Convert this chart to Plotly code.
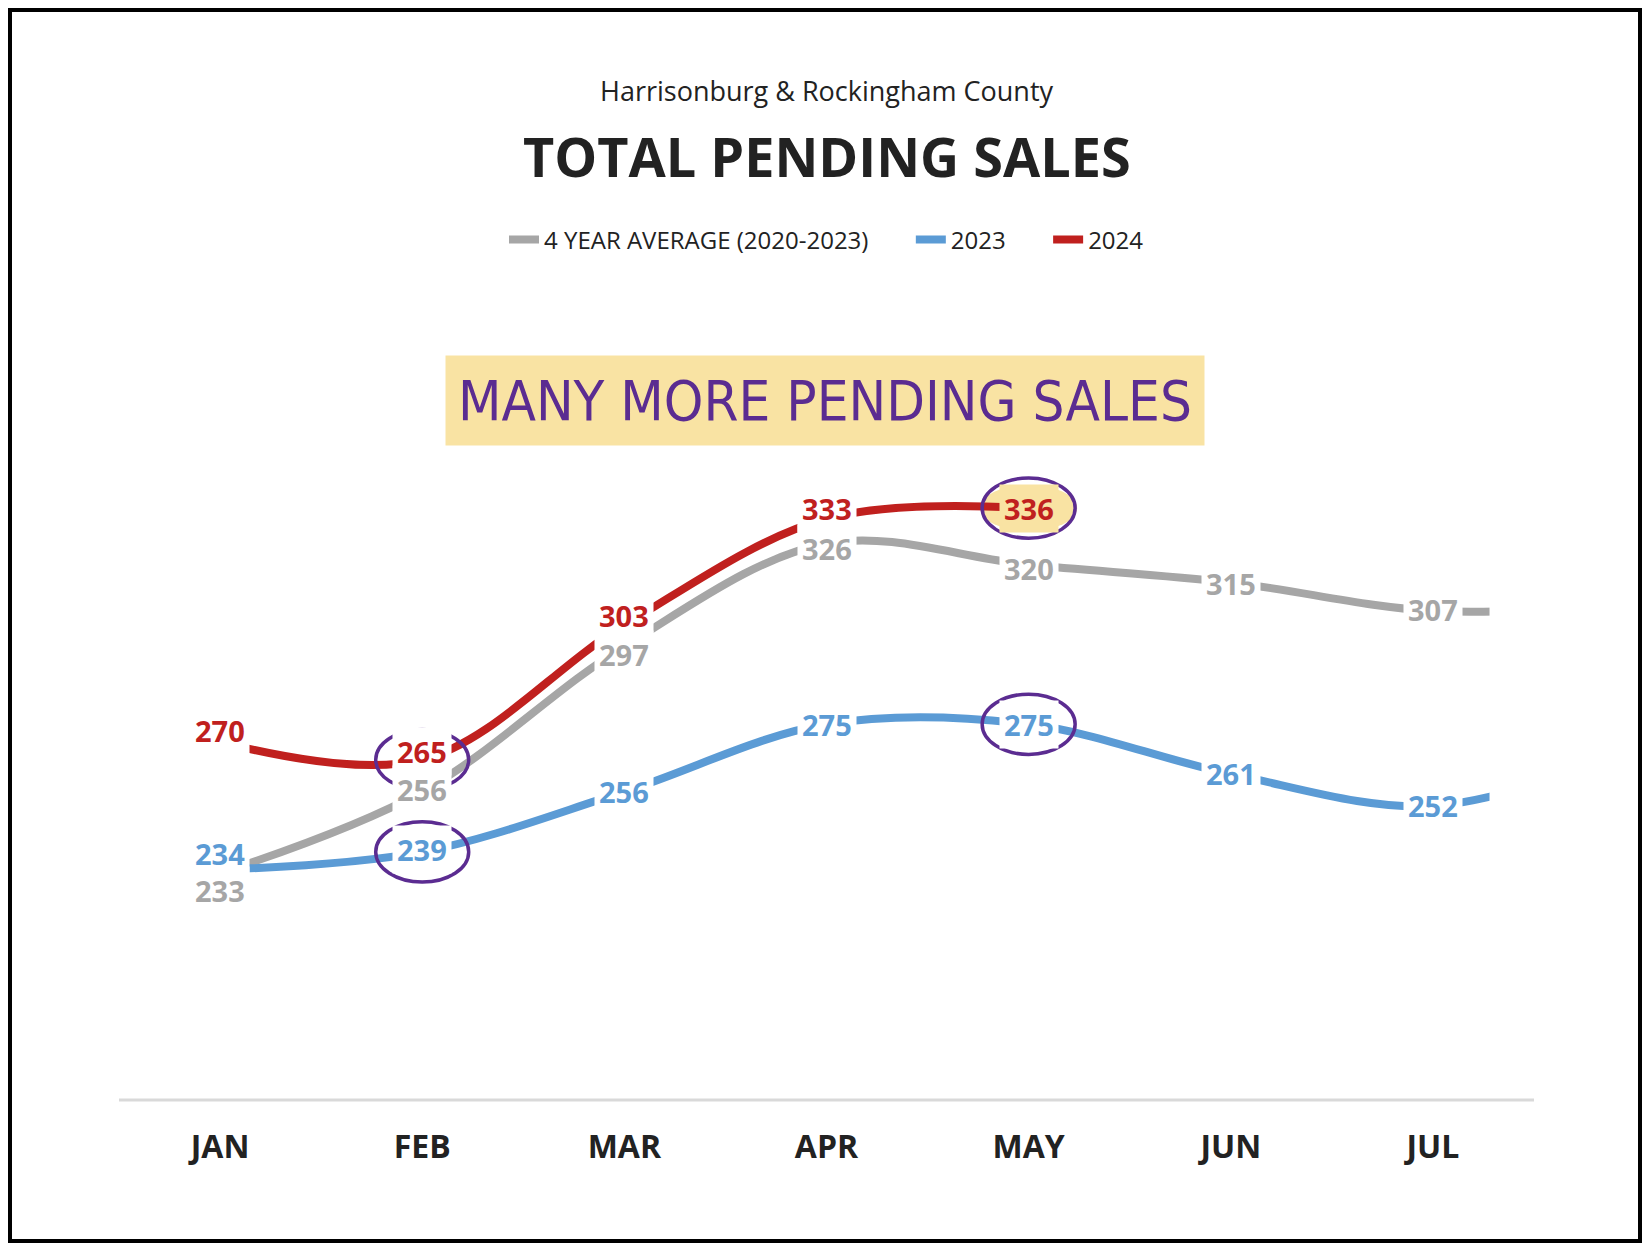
import plotly.graph_objects as go

months = ["JAN","FEB","MAR","APR","MAY","JUN","JUL","AUG"]
avg = [233,256,297,326,320,315,307,309]
y2023 = [234,239,256,275,275,261,252,268]
y2024 = [270,265,303,333,336]

GRAY="#A6A6A6"; BLUE="#5B9BD5"; RED="#C0201E"; PURPLE="#5B2C91"; YEL="#F9E3A3"
FONT="Open Sans"
x = list(range(8))
fig = go.Figure()
fig.add_trace(go.Scatter(x=x, y=avg, mode="lines", line=dict(color=GRAY,width=8,shape="spline"), name="4 YEAR AVERAGE (2020-2023)      "))
fig.add_trace(go.Scatter(x=x, y=y2023, mode="lines", line=dict(color=BLUE,width=8,shape="spline"), name="2023      "))
fig.add_trace(go.Scatter(x=x[:5], y=y2024, mode="lines", line=dict(color=RED,width=8,shape="spline"), name="2024"))

ann=[]
def lab(i,v,col,shift,bg="white"):
    ann.append(dict(x=i,y=v,text=f"<b>{v}</b>",showarrow=False,yshift=shift,bgcolor=bg,
                    font=dict(family=FONT,size=29,color=col),borderpad=4))
sh_avg=[-17,2,-8,-5,-4,-1,1]
for i in range(7): lab(i,avg[i],GRAY,sh_avg[i])
sh_23=[16,2,0,0,0,0,0]
for i in range(7): lab(i,y2023[i],BLUE,sh_23[i])
sh_24=[12,8,10,10,0]
for i in range(5): lab(i,y2024[i],RED,sh_24[i],YEL if i==4 else "white")

def py(p): return (1092-p)/677
def px(p): return (p-111)/1415
ann += [
 dict(xref="paper",yref="paper",x=0.5,y=py(83),xanchor="center",yanchor="middle",text="Harrisonburg &amp; Rockingham County",showarrow=False,font=dict(family=FONT,size=27,color="#222")),
 dict(xref="paper",yref="paper",x=0.5,y=py(148),xanchor="center",yanchor="middle",text="<b>TOTAL PENDING SALES</b>",showarrow=False,font=dict(family=FONT,size=54,color="#222")),
 dict(xref="paper",yref="paper",x=px(817),y=py(393),xanchor="center",yanchor="middle",text="MANY MORE PENDING SALES",showarrow=False,
      bgcolor=YEL,borderpad=12,font=dict(family="DejaVu Sans Condensed",size=56,color=PURPLE)),
]
shapes=[
 dict(type="rect",xref="paper",yref="paper",x0=px(2),x1=px(1632),y0=py(1233),y1=py(2),line=dict(color="black",width=4)),
 dict(type="rect",xref="x",yref="y",x0=6.28,x1=6.6,y0=240,y1=330,fillcolor="white",line=dict(width=0),layer="above"),
 dict(type="line",xref="paper",yref="paper",x0=0,x1=1,y0=0,y1=0,line=dict(color="#D9D9D9",width=3)),
 dict(type="circle",xref="x",yref="y",x0=3.76,x1=4.24,y0=329.5,y1=342.5,fillcolor=YEL,line=dict(width=0),layer="below"),
]
for (cx,cy) in [(1,265),(1,239),(4,275),(4,336)]:
    shapes.append(dict(type="circle",xref="x",yref="y",x0=cx-0.23,x1=cx+0.23,y0=cy-8.5,y1=cy+8.5,line=dict(color=PURPLE,width=3.5),layer="above"))

fig.update_layout(width=1634,height=1235,paper_bgcolor="white",plot_bgcolor="white",
  margin=dict(l=111,r=108,t=415,b=143),showlegend=True,
  legend=dict(orientation="h",x=0.5,xanchor="center",y=py(232),yanchor="middle",
              font=dict(family=FONT,size=24,color="#222")),
  annotations=ann,shapes=shapes,
  xaxis=dict(range=[-0.5,6.5],tickvals=list(range(7)),ticktext=[f"<b>{m}</b>" for m in months[:7]],
             showgrid=False,zeroline=False,showline=False,ticks="",tickfont=dict(family=FONT,size=32,color="#222"),ticklabelstandoff=25),
  yaxis=dict(range=[169,360],visible=False))
fig.write_html("out.html")
